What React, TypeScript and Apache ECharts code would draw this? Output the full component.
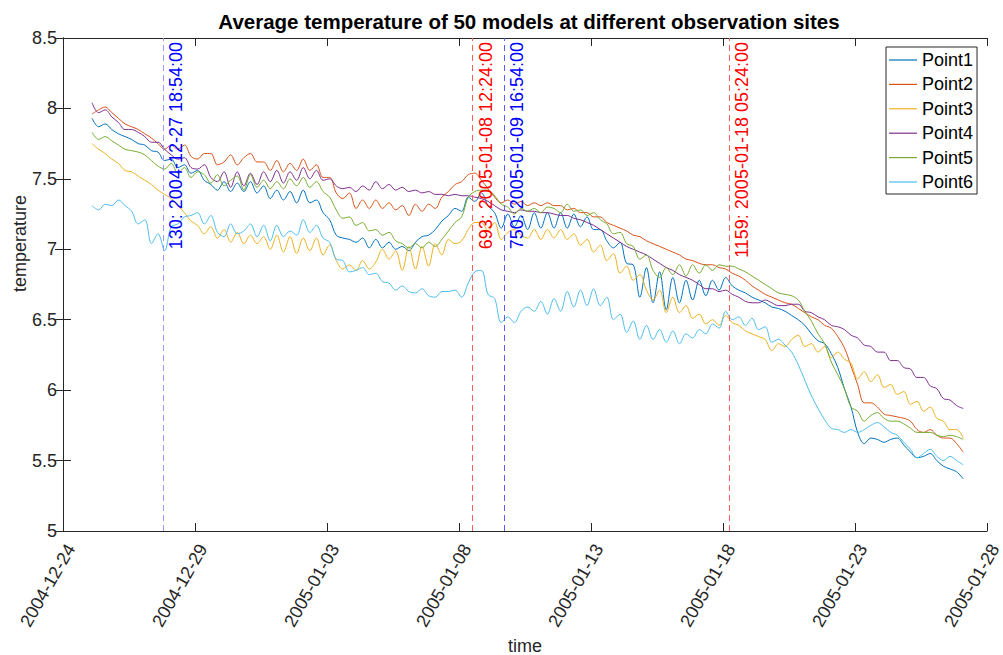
import React, { useEffect, useRef } from "react";
import * as echarts from "echarts";

// Time bookkeeping: x axis is measured in days since the first tick.
const AXIS_START = Date.UTC(2004, 11, 24);
const SERIES_START = Date.UTC(2004, 11, 25, 2, 24);
const SAMPLE_HOURS = 6;
const RECORD_MINUTES = 30;
const DAY_MS = 86400000;

const X_TICK_LABELS = [
  "2004-12-24",
  "2004-12-29",
  "2005-01-03",
  "2005-01-08",
  "2005-01-13",
  "2005-01-18",
  "2005-01-23",
  "2005-01-28",
];
const X_TICK_DAYS = 5;
const Y_MIN = 5;
const Y_MAX = 8.5;
const Y_STEP = 0.5;

const SERIES_NAMES = ["Point1", "Point2", "Point3", "Point4", "Point5", "Point6"];
const SERIES_COLORS = ["#0072BD", "#D95319", "#EDB120", "#7E2F8E", "#77AC30", "#4DBEEE"];

// Ensemble-mean temperature, one value every 6 hours.
const POINT1 = [
  7.93, 7.87, 7.89, 7.85, 7.82, 7.8, 7.78, 7.75, 7.74, 7.7,
  7.69, 7.63, 7.64, 7.58, 7.6, 7.54, 7.56, 7.49, 7.46, 7.42,
  7.48, 7.41, 7.47, 7.41, 7.48, 7.4, 7.45, 7.36, 7.42, 7.35,
  7.41, 7.33, 7.42, 7.33, 7.35, 7.26, 7.21, 7.1, 7.08, 7.07,
  7.05, 7.08, 7.01, 7.07, 7.01, 7.05, 7.0, 7.02, 6.99, 7.05,
  7.09, 7.1, 7.14, 7.2, 7.24, 7.29, 7.27, 7.37, 7.34, 7.4,
  7.31, 7.26, 7.15, 7.25, 7.16, 7.24, 7.14, 7.26, 7.15, 7.26,
  7.15, 7.26, 7.15, 7.25, 7.16, 7.23, 7.14, 7.14, 7.06, 7.01,
  7.05, 6.9, 6.89, 6.66, 6.87, 6.62, 6.84, 6.57, 6.8, 6.62,
  6.78, 6.64, 6.78, 6.67, 6.78, 6.71, 6.8, 6.74, 6.71, 6.69,
  6.66, 6.64, 6.62, 6.59, 6.58, 6.56, 6.53, 6.5, 6.46, 6.4,
  6.35, 6.33, 6.26, 6.16, 6.01, 5.88, 5.7, 5.62, 5.66, 5.65,
  5.63, 5.65, 5.66, 5.61, 5.56, 5.52, 5.53, 5.55, 5.5, 5.46,
  5.44, 5.42, 5.37,
];
const POINT2 = [
  7.96, 7.99, 8.01, 7.97, 7.93, 7.89, 7.87, 7.85, 7.82, 7.79,
  7.75, 7.71, 7.74, 7.71, 7.74, 7.66, 7.64, 7.68, 7.68, 7.6,
  7.62, 7.67, 7.6, 7.65, 7.68, 7.62, 7.62, 7.56, 7.63, 7.55,
  7.61, 7.56, 7.64, 7.56, 7.6, 7.51, 7.51, 7.4, 7.36, 7.4,
  7.29, 7.35, 7.29, 7.35, 7.29, 7.33, 7.28, 7.31, 7.24, 7.32,
  7.27, 7.32, 7.29, 7.37, 7.41, 7.46, 7.48, 7.53, 7.54, 7.49,
  7.43, 7.37, 7.33, 7.35, 7.32, 7.34, 7.31, 7.33, 7.31, 7.33,
  7.31, 7.31, 7.28, 7.29, 7.26, 7.26, 7.23, 7.23, 7.19, 7.17,
  7.15, 7.13, 7.1, 7.09, 7.06, 7.04, 7.02, 7.0, 6.98, 6.96,
  6.93, 6.92, 6.9, 6.89, 6.89, 6.87, 6.86, 6.83, 6.81, 6.78,
  6.74, 6.71, 6.68, 6.66, 6.64, 6.62, 6.61, 6.58, 6.55, 6.52,
  6.5, 6.46, 6.44, 6.38, 6.3, 6.17, 6.04, 5.91, 5.91, 5.88,
  5.83, 5.82, 5.81, 5.8, 5.78, 5.72, 5.7, 5.72, 5.68, 5.66,
  5.66, 5.62, 5.56,
];
const POINT3 = [
  7.75, 7.71, 7.68, 7.64, 7.61, 7.56, 7.55, 7.52, 7.49, 7.46,
  7.42, 7.39, 7.36, 7.31, 7.26, 7.2, 7.17, 7.11, 7.16, 7.08,
  7.14, 7.05, 7.12, 7.04, 7.1, 7.04, 7.09, 7.0, 7.1, 6.98,
  7.09, 6.97, 7.08, 6.99, 7.08, 6.96, 7.03, 6.92, 6.86, 6.89,
  6.85, 6.92, 6.86, 6.91, 7.0, 6.93, 6.99, 6.85, 7.02, 6.86,
  7.02, 6.88, 7.04, 6.96, 7.07, 7.04, 7.06, 7.14, 7.19, 7.19,
  7.13, 7.19, 7.07, 7.12, 7.14, 7.1, 7.08, 7.14, 7.07, 7.14,
  7.08, 7.14, 7.07, 7.11, 7.03, 7.07, 6.98, 7.03, 6.92, 6.97,
  6.83, 6.88, 6.78, 6.82, 6.71, 6.64, 6.71, 6.55, 6.66, 6.55,
  6.6, 6.51, 6.54, 6.47, 6.5, 6.46, 6.53, 6.48, 6.46, 6.42,
  6.4, 6.38, 6.36, 6.28, 6.33, 6.31, 6.36, 6.39, 6.31, 6.33,
  6.27, 6.31, 6.23, 6.27, 6.22, 6.19, 6.08, 6.13, 6.06, 6.11,
  6.02, 6.04, 5.97, 5.99, 5.9, 5.92, 5.85, 5.88, 5.8, 5.78,
  5.72, 5.72, 5.66,
];
const POINT4 = [
  8.04, 7.97, 7.99, 7.94, 7.9, 7.85, 7.85, 7.83, 7.8, 7.76,
  7.76, 7.71, 7.67, 7.64, 7.65, 7.58, 7.57, 7.6, 7.51, 7.48,
  7.55, 7.44, 7.55, 7.45, 7.54, 7.46, 7.55, 7.48, 7.56, 7.47,
  7.55, 7.49, 7.58, 7.5, 7.56, 7.49, 7.5, 7.45, 7.43, 7.44,
  7.41, 7.45, 7.42, 7.48, 7.43, 7.46, 7.42, 7.44, 7.41, 7.42,
  7.4, 7.41, 7.39, 7.39, 7.38, 7.39, 7.38, 7.38, 7.37, 7.36,
  7.34, 7.31, 7.28, 7.27, 7.26, 7.28, 7.27, 7.27, 7.26, 7.26,
  7.25, 7.24, 7.24, 7.22, 7.21, 7.19, 7.17, 7.14, 7.11, 7.08,
  7.05, 7.02, 7.0, 6.98, 6.96, 6.93, 6.9, 6.87, 6.85, 6.82,
  6.8, 6.78, 6.75, 6.72, 6.72, 6.7, 6.71, 6.68, 6.66, 6.63,
  6.62, 6.62, 6.64, 6.62, 6.6, 6.6, 6.61, 6.61, 6.56, 6.55,
  6.52, 6.5, 6.46, 6.45, 6.43, 6.39, 6.37, 6.32, 6.31, 6.27,
  6.27, 6.21, 6.21, 6.16, 6.15, 6.09, 6.09, 6.03, 6.01, 5.94,
  5.93, 5.89, 5.87,
];
const POINT5 = [
  7.83, 7.78, 7.8, 7.77, 7.74, 7.71, 7.7, 7.69, 7.67, 7.63,
  7.59, 7.57, 7.61, 7.54, 7.58, 7.51, 7.55, 7.53, 7.47, 7.53,
  7.45, 7.49, 7.52, 7.42, 7.53, 7.44, 7.49, 7.43, 7.48, 7.43,
  7.5, 7.45, 7.51, 7.44, 7.48, 7.41, 7.37, 7.28, 7.22, 7.23,
  7.17, 7.19, 7.13, 7.14, 7.1, 7.12, 7.06, 7.04, 7.01, 7.04,
  7.01, 7.05, 7.02, 7.07, 7.13, 7.19, 7.23, 7.37, 7.41, 7.42,
  7.42, 7.38, 7.32, 7.3, 7.25, 7.29, 7.27, 7.29, 7.26, 7.3,
  7.29, 7.26, 7.32, 7.27, 7.28, 7.24, 7.26, 7.21, 7.18, 7.11,
  7.12, 7.04, 7.02, 6.93, 6.96, 6.85, 6.8, 6.87, 6.82, 6.89,
  6.81, 6.89, 6.83, 6.89, 6.85, 6.89, 6.88, 6.88, 6.86, 6.84,
  6.81, 6.78, 6.75, 6.72, 6.69, 6.68, 6.67, 6.64, 6.56, 6.49,
  6.4, 6.33, 6.2, 6.11, 6.01, 5.88, 5.85, 5.78, 5.82, 5.84,
  5.8, 5.78, 5.78, 5.76, 5.73, 5.7, 5.7, 5.7, 5.68, 5.67,
  5.68, 5.67, 5.65,
];
const POINT6 = [
  7.31, 7.28, 7.32, 7.31, 7.35, 7.31, 7.27, 7.18, 7.21, 7.04,
  7.11, 6.99, 7.16, 7.18, 7.23, 7.24, 7.26, 7.18, 7.24, 7.12,
  7.09, 7.18, 7.11, 7.13, 7.18, 7.09, 7.17, 7.06, 7.17, 7.09,
  7.13, 7.1, 7.21, 7.12, 7.17, 7.08, 7.05, 6.93, 6.92, 6.84,
  6.85, 6.87, 6.82, 6.83, 6.77, 6.76, 6.71, 6.74, 6.7, 6.69,
  6.72, 6.67, 6.66, 6.7, 6.7, 6.71, 6.66, 6.76, 6.84, 6.85,
  6.68, 6.65, 6.48, 6.52, 6.48, 6.56, 6.59, 6.56, 6.63, 6.54,
  6.65, 6.56, 6.7, 6.59, 6.71, 6.6, 6.72, 6.6, 6.66, 6.5,
  6.54, 6.41, 6.49, 6.36, 6.46, 6.36, 6.43, 6.34, 6.42, 6.33,
  6.4, 6.37, 6.43, 6.4, 6.47, 6.44, 6.56, 6.5, 6.52, 6.46,
  6.51, 6.43, 6.45, 6.34, 6.36, 6.32, 6.27, 6.18, 6.07, 5.96,
  5.87, 5.79, 5.73, 5.72, 5.7, 5.72, 5.7, 5.72, 5.75, 5.77,
  5.74, 5.7, 5.68, 5.63, 5.58, 5.52, 5.55, 5.58, 5.53, 5.5,
  5.53, 5.5, 5.47,
];
const SERIES_VALUES = [POINT1, POINT2, POINT3, POINT4, POINT5, POINT6];

// Highlighted records (index in the 30-minute record).
const MARKER_INDEX = [130, 693, 750, 1159];
const MARKER_TEXT = [
  "130: 2004-12-27 18:54:00",
  "693: 2005-01-08 12:24:00",
  "750: 2005-01-09 16:54:00",
  "1159: 2005-01-18 05:24:00",
];
const MARKER_TEXT_COLORS = ["#0000ff", "#ff0000", "#0000ff", "#ff0000"];
const MARKER_LINE_COLORS = ["#9a9aff", "#ff5c5c", "#5c5cff", "#ff5c5c"];

const FONT = "'Liberation Sans', Arial, Helvetica, sans-serif";
const INK = "#262626";

const toDays = (ms: number) => (ms - AXIS_START) / DAY_MS;
const markerDays = (idx: number) => toDays(SERIES_START + (idx - 1) * RECORD_MINUTES * 60000);
const sampleDays = (i: number) => toDays(SERIES_START + i * SAMPLE_HOURS * 3600000);

function buildOption(): echarts.EChartsOption {
  const xMax = X_TICK_DAYS * (X_TICK_LABELS.length - 1);
  const tickLabel = (v: number) => X_TICK_LABELS[Math.round(v / X_TICK_DAYS)] ?? "";

  const markLineData = MARKER_INDEX.map((idx, k) => ({
    xAxis: markerDays(idx),
    lineStyle: { color: MARKER_LINE_COLORS[k], width: 1, type: [6, 4] as number[], opacity: 1 },
    label: {
      show: true,
      formatter: MARKER_TEXT[k],
      color: MARKER_TEXT_COLORS[k],
      position: "insideEndBottom" as const,
      fontSize: 18,
      fontFamily: FONT,
      distance: 4,
    },
  }));

  const series = SERIES_VALUES.map((vals, s) => ({
    name: SERIES_NAMES[s],
    type: "line" as const,
    xAxisIndex: 0,
    yAxisIndex: 0,
    showSymbol: false,
    symbol: "none",
    smooth: 0.35,
    color: SERIES_COLORS[s],
    lineStyle: { width: 1, color: SERIES_COLORS[s] },
    data: vals.map((v, i) => [sampleDays(i), v]),
    ...(s === 0
      ? {
          markLine: {
            silent: true,
            symbol: ["none", "none"],
            animation: false,
            data: markLineData,
          },
        }
      : {}),
  }));

  const frameLine = { show: true, lineStyle: { color: INK, width: 1 } };
  const innerTick = { show: true, inside: true, length: 8, lineStyle: { color: INK, width: 1 } };

  return {
    animation: false,
    backgroundColor: "#ffffff",
    textStyle: { fontFamily: FONT },
    title: {
      text: "Average temperature of 50 models at different observation sites",
      left: 524,
      textAlign: "center",
      top: 6,
      textStyle: { fontSize: 20.5, fontWeight: "bold", color: "#000", fontFamily: FONT },
    },
    grid: {
      left: 63,
      right: 16,
      top: 38,
      bottom: 124,
      containLabel: false,
      outerBoundsMode: "none",
    },
    legend: {
      orient: "vertical",
      left: 886,
      top: 47,
      icon: "rect",
      itemWidth: 28,
      itemHeight: 1.2,
      itemGap: 4.4,
      padding: [3, 4, 2, 3],
      borderColor: INK,
      borderWidth: 1,
      backgroundColor: "#ffffff",
      textStyle: { fontSize: 18, color: "#000", fontFamily: FONT, lineHeight: 20 },
      data: SERIES_NAMES,
    },
    xAxis: [
      {
        type: "value",
        position: "bottom",
        min: 0,
        max: xMax,
        interval: X_TICK_DAYS,
        axisLine: frameLine,
        axisTick: innerTick,
        splitLine: { show: false },
        axisLabel: {
          rotate: 60,
          fontSize: 18,
          lineHeight: 18,
          color: INK,
          fontFamily: FONT,
          margin: 10,
          align: "right",
          verticalAlign: "top",
          showMinLabel: true,
          showMaxLabel: true,
          formatter: tickLabel,
        },
        name: "time",
        nameLocation: "middle",
        nameGap: 106,
        nameMoveOverlap: false,
        nameTextStyle: { fontSize: 18, lineHeight: 18, color: INK, fontFamily: FONT },
      },
      {
        type: "value",
        position: "top",
        min: 0,
        max: xMax,
        interval: X_TICK_DAYS,
        axisLine: frameLine,
        axisTick: innerTick,
        axisLabel: { show: false },
        splitLine: { show: false },
      },
    ],
    yAxis: [
      {
        type: "value",
        position: "left",
        min: Y_MIN,
        max: Y_MAX,
        interval: Y_STEP,
        axisLine: frameLine,
        axisTick: innerTick,
        splitLine: { show: false },
        axisLabel: { fontSize: 18, color: INK, fontFamily: FONT, margin: 6 },
        name: "temperature",
        nameLocation: "middle",
        nameGap: 34,
        nameMoveOverlap: false,
        nameTextStyle: {
          fontSize: 18,
          color: INK,
          fontFamily: FONT,
          padding: [0, 0, 0, 82],
        },
      },
      {
        type: "value",
        position: "right",
        min: Y_MIN,
        max: Y_MAX,
        interval: Y_STEP,
        axisLine: frameLine,
        axisTick: innerTick,
        axisLabel: { show: false },
        splitLine: { show: false },
      },
    ],
    series,
  } as echarts.EChartsOption;
}

export default function App() {
  const ref = useRef<HTMLDivElement>(null);

  useEffect(() => {
    document.body.style.margin = "0";
    if (!ref.current) return;
    const chart = echarts.init(ref.current, undefined, { renderer: "svg" });
    chart.setOption(buildOption());
    return () => chart.dispose();
  }, []);

  return <div ref={ref} style={{ width: 1003, height: 655 }} />;
}
